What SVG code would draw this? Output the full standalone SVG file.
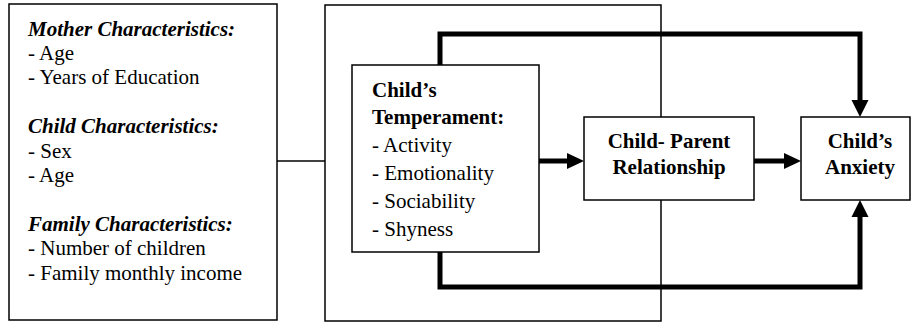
<svg xmlns="http://www.w3.org/2000/svg" width="911" height="323" viewBox="0 0 911 323">
<style>
.box{fill:#fff;stroke:#000;stroke-width:1.5}
.frame{fill:none;stroke:#000;stroke-width:1.5}
.bi{font-weight:bold;font-style:italic}
.b{font-weight:bold}
.thick{fill:none;stroke:#000;stroke-width:5;stroke-linejoin:miter}
.thin{fill:none;stroke:#000;stroke-width:1.5}
.head{fill:#000}
</style>
<rect width="911" height="323" fill="#fff"/>
<g id="outer-frame">
<rect class="frame" x="325" y="5" width="336" height="316"/>
</g>
<g id="connectors">
<path class="thin" d="M277,161 H325"/>
<path class="thick" d="M440,65 V34 H860 V100"/>
<polygon class="head" points="851.5,100 868.5,100 860,117"/>
<path class="thick" d="M440,252 V287 H860 V217"/>
<polygon class="head" points="851.5,217 868.5,217 860,200"/>
<path class="thick" d="M539,161 H567"/>
<polygon class="head" points="567,153 567,169 584,161"/>
<path class="thick" d="M754,161 H784"/>
<polygon class="head" points="784,153 784,169 801,161"/>
</g>
<g font-family="Liberation Serif, Times New Roman, DejaVu Serif, serif" font-size="21" fill="#000">
<g id="characteristics">
<rect class="box" x="9" y="4" width="268" height="316"/>
<text class="bi" x="28" y="35.5">Mother Characteristics:</text>
<text x="28" y="59.9">- Age</text>
<text x="28" y="84.3">- Years of Education</text>
<text class="bi" x="28" y="133.1">Child Characteristics:</text>
<text x="28" y="157.5">- Sex</text>
<text x="28" y="181.9">- Age</text>
<text class="bi" x="28" y="230.7">Family Characteristics:</text>
<text x="28" y="255.1">- Number of children</text>
<text x="28" y="279.5">- Family monthly income</text>
</g>
<g id="temperament">
<rect class="box" x="352" y="65" width="187" height="187"/>
<text class="b" x="372" y="97">Child’s</text>
<text class="b" x="372" y="124">Temperament:</text>
<text x="372" y="152">- Activity</text>
<text x="372" y="180">- Emotionality</text>
<text x="372" y="208">- Sociability</text>
<text x="372" y="236">- Shyness</text>
</g>
<g id="relationship">
<rect class="box" x="584" y="117" width="170" height="83"/>
<text class="b" x="669" y="148" text-anchor="middle">Child- Parent</text>
<text class="b" x="669" y="174" text-anchor="middle">Relationship</text>
</g>
<g id="anxiety">
<rect class="box" x="801" y="117" width="109" height="83"/>
<text class="b" x="860" y="148" text-anchor="middle">Child’s</text>
<text class="b" x="860" y="174" text-anchor="middle">Anxiety</text>
</g>
</g>
</svg>
